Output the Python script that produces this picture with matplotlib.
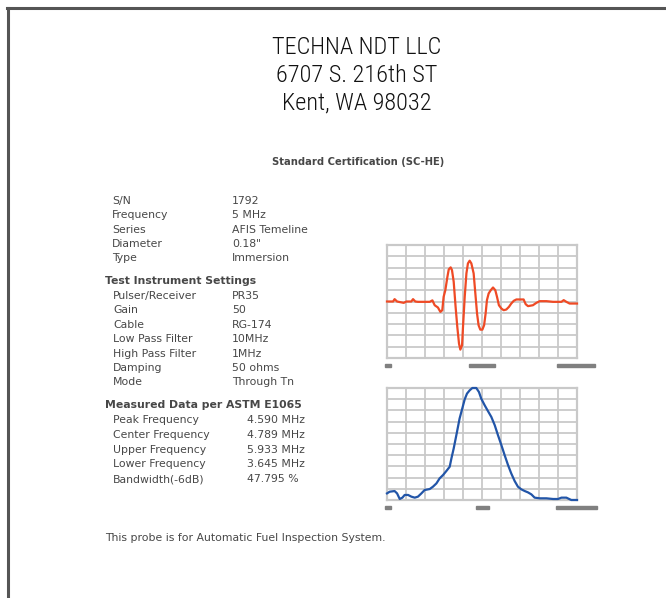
import matplotlib
matplotlib.use("Agg")
import matplotlib.pyplot as plt
from matplotlib.patches import Rectangle
from matplotlib.lines import Line2D

# ---------------------------------------------------------------- data --
header_lines = ["TECHNA NDT LLC", "6707 S. 216th ST", "Kent, WA 98032"]
cert_title = "Standard Certification (SC-HE)"

probe_labels = ["S/N", "Frequency", "Series", "Diameter", "Type"]
probe_values = ["1792", "5 MHz", "AFIS Temeline", "0.18\"", "Immersion"]

inst_title = "Test Instrument Settings"
inst_labels = ["Pulser/Receiver", "Gain", "Cable", "Low Pass Filter",
               "High Pass Filter", "Damping", "Mode"]
inst_values = ["PR35", "50", "RG-174", "10MHz", "1MHz", "50 ohms", "Through Tn"]

meas_title = "Measured Data per ASTM E1065"
meas_labels = ["Peak Frequency", "Center Frequency", "Upper Frequency",
               "Lower Frequency", "Bandwidth(-6dB)"]
meas_values = ["4.590 MHz", "4.789 MHz", "5.933 MHz", "3.645 MHz", "47.795 %"]

footer = "This probe is for Automatic Fuel Inspection System."

# time-domain waveform (grid divisions, amplitude -5..5)
wave_t = [0.00, 0.32, 0.40, 0.53, 0.88, 1.02, 1.28, 1.37, 1.49, 1.63, 2.25, 2.39,
          2.51, 2.68, 2.81, 2.91, 2.98, 3.07, 3.18, 3.25, 3.35, 3.42, 3.51, 3.61,
          3.70, 3.79, 3.86, 3.95, 4.00, 4.09, 4.18, 4.26, 4.35, 4.44, 4.56, 4.65,
          4.74, 4.82, 4.91, 5.02, 5.11, 5.19, 5.26, 5.35, 5.46, 5.58, 5.70, 5.79,
          5.89, 6.02, 6.14, 6.28, 6.42, 6.54, 6.67, 6.81, 7.19, 7.30, 7.42, 7.68,
          7.86, 8.04, 8.39, 8.74, 9.18, 9.30, 9.44, 9.61, 10.0]
wave_a = [0.00, 0.00, 0.21, 0.00, -0.12, 0.00, 0.00, 0.21, 0.00, -0.03, -0.03, 0.10,
          -0.33, -0.53, -0.92, -0.77, 0.41, 1.00, 2.19, 2.84, 3.02, 2.78, 1.75, -0.47,
          -2.25, -3.73, -4.26, -3.88, -2.25, 0.41, 2.49, 3.37, 3.61, 3.37, 2.49, 0.71,
          -1.07, -2.10, -2.49, -2.49, -2.10, -1.07, 0.12, 0.71, 1.00, 1.24, 1.00, 0.41,
          -0.33, -0.62, -0.77, -0.71, -0.47, -0.18, 0.06, 0.18, 0.18, -0.24, -0.41, -0.33,
          -0.12, 0.03, 0.03, -0.03, -0.03, 0.12, -0.03, -0.18, -0.18]

# frequency spectrum (MHz, amplitude 0..10 divisions)
spec_f = [0.00, 0.14, 0.40, 0.53, 0.67, 0.81, 0.93, 1.11, 1.28, 1.46, 1.63, 1.81,
          1.98, 2.25, 2.42, 2.60, 2.77, 2.95, 3.12, 3.30, 3.39, 3.51, 3.65, 3.82,
          3.96, 4.09, 4.21, 4.35, 4.49, 4.70, 4.84, 4.96, 5.14, 5.32, 5.49, 5.67,
          5.84, 6.02, 6.19, 6.37, 6.54, 6.72, 6.89, 7.07, 7.25, 7.42, 7.60, 7.77,
          8.04, 8.39, 8.74, 9.00, 9.18, 9.44, 9.70, 10.0]
spec_a = [0.59, 0.74, 0.80, 0.59, 0.09, 0.21, 0.45, 0.45, 0.30, 0.21, 0.30, 0.59,
          0.89, 0.98, 1.19, 1.48, 1.93, 2.23, 2.58, 2.97, 3.71, 4.60, 5.79, 7.27,
          8.16, 8.99, 9.50, 9.79, 10.0, 10.0, 9.64, 9.05, 8.46, 7.92, 7.42, 6.68,
          5.79, 4.90, 4.01, 3.12, 2.37, 1.69, 1.19, 0.95, 0.80, 0.68, 0.50, 0.21,
          0.15, 0.15, 0.09, 0.09, 0.21, 0.21, 0.00, 0.00]

W, H = 666, 598
TEXT = "#474747"
GRID = "#c9c9c9"


def fx(px):
    return px / W


def fy(py):
    return 1 - py / H


fig = plt.figure(figsize=(W / 100, H / 100), dpi=100)
fig.patch.set_facecolor("white")

# page border (top and left edges visible)
fig.add_artist(Line2D([fx(8), fx(8)], [fy(8), 0], color="#555555", lw=2.2,
                      transform=fig.transFigure))
fig.add_artist(Line2D([fx(7), 1], [fy(8), fy(8)], color="#555555", lw=2.2,
                      transform=fig.transFigure))

# header
for i, line in enumerate(header_lines):
    fig.text(fx(357), fy(48 + i * 27.5), line, ha="center", va="center",
             fontsize=17.5, family=["Roboto Condensed", "DejaVu Sans"],
             weight=300, color="#111111")

body = dict(fontsize=7.8, color=TEXT, family="DejaVu Sans", va="center")
fig.text(fx(358), fy(162), cert_title, ha="center",
         **{**body, "fontsize": 7.2, "weight": "bold"})

for i, (lab, val) in enumerate(zip(probe_labels, probe_values)):
    y = 201 + i * 14.3
    fig.text(fx(112), fy(y), lab, **body)
    fig.text(fx(232), fy(y), val, **body)

fig.text(fx(105), fy(281), inst_title, weight="bold", **body)
for i, (lab, val) in enumerate(zip(inst_labels, inst_values)):
    y = 296 + i * 14.4
    fig.text(fx(113), fy(y), lab, **body)
    fig.text(fx(232), fy(y), val, **body)

fig.text(fx(105), fy(405), meas_title, weight="bold", **body)
for i, (lab, val) in enumerate(zip(meas_labels, meas_values)):
    y = 420 + i * 14.8
    fig.text(fx(113), fy(y), lab, **body)
    fig.text(fx(247), fy(y), val, **body)

fig.text(fx(105), fy(538), footer, **body)


def scope(box, xs, ys, ylim, color):
    x0, y0, x1, y1 = box
    ax = fig.add_axes([fx(x0), fy(y1), fx(x1) - fx(x0), fy(y0) - fy(y1)])
    ax.plot(xs, ys, color=color, lw=1.6, zorder=3, clip_on=False)
    ax.set_xlim(0, 10)
    ax.set_ylim(*ylim)
    ax.set_xticks(range(0, 11))
    ax.set_yticks([ylim[0] + k * (ylim[1] - ylim[0]) / 10 for k in range(11)])
    ax.grid(True, color=GRID, lw=1.3)
    ax.tick_params(length=0, labelbottom=False, labelleft=False)
    for s in ax.spines.values():
        s.set_color(GRID)
        s.set_linewidth(1.6)
    ax.set_facecolor("white")
    return ax


scope((387, 245, 577, 358), wave_t, wave_a, (-5, 5), "#ef4a25")
scope((387, 388, 577, 500), spec_f, spec_a, (0, 10), "#2255a8")

# small gray scale markers under each scope
for (y, segs) in [(365, [(385, 391), (469, 495), (557, 595)]),
                  (507, [(385, 391), (476, 489), (556, 597)])]:
    for a, b in segs:
        fig.add_artist(Rectangle((fx(a), fy(y + 1.5)), fx(b) - fx(a), 3 / H,
                                 color="#808080", transform=fig.transFigure))

fig.savefig("out.png", dpi=100)
